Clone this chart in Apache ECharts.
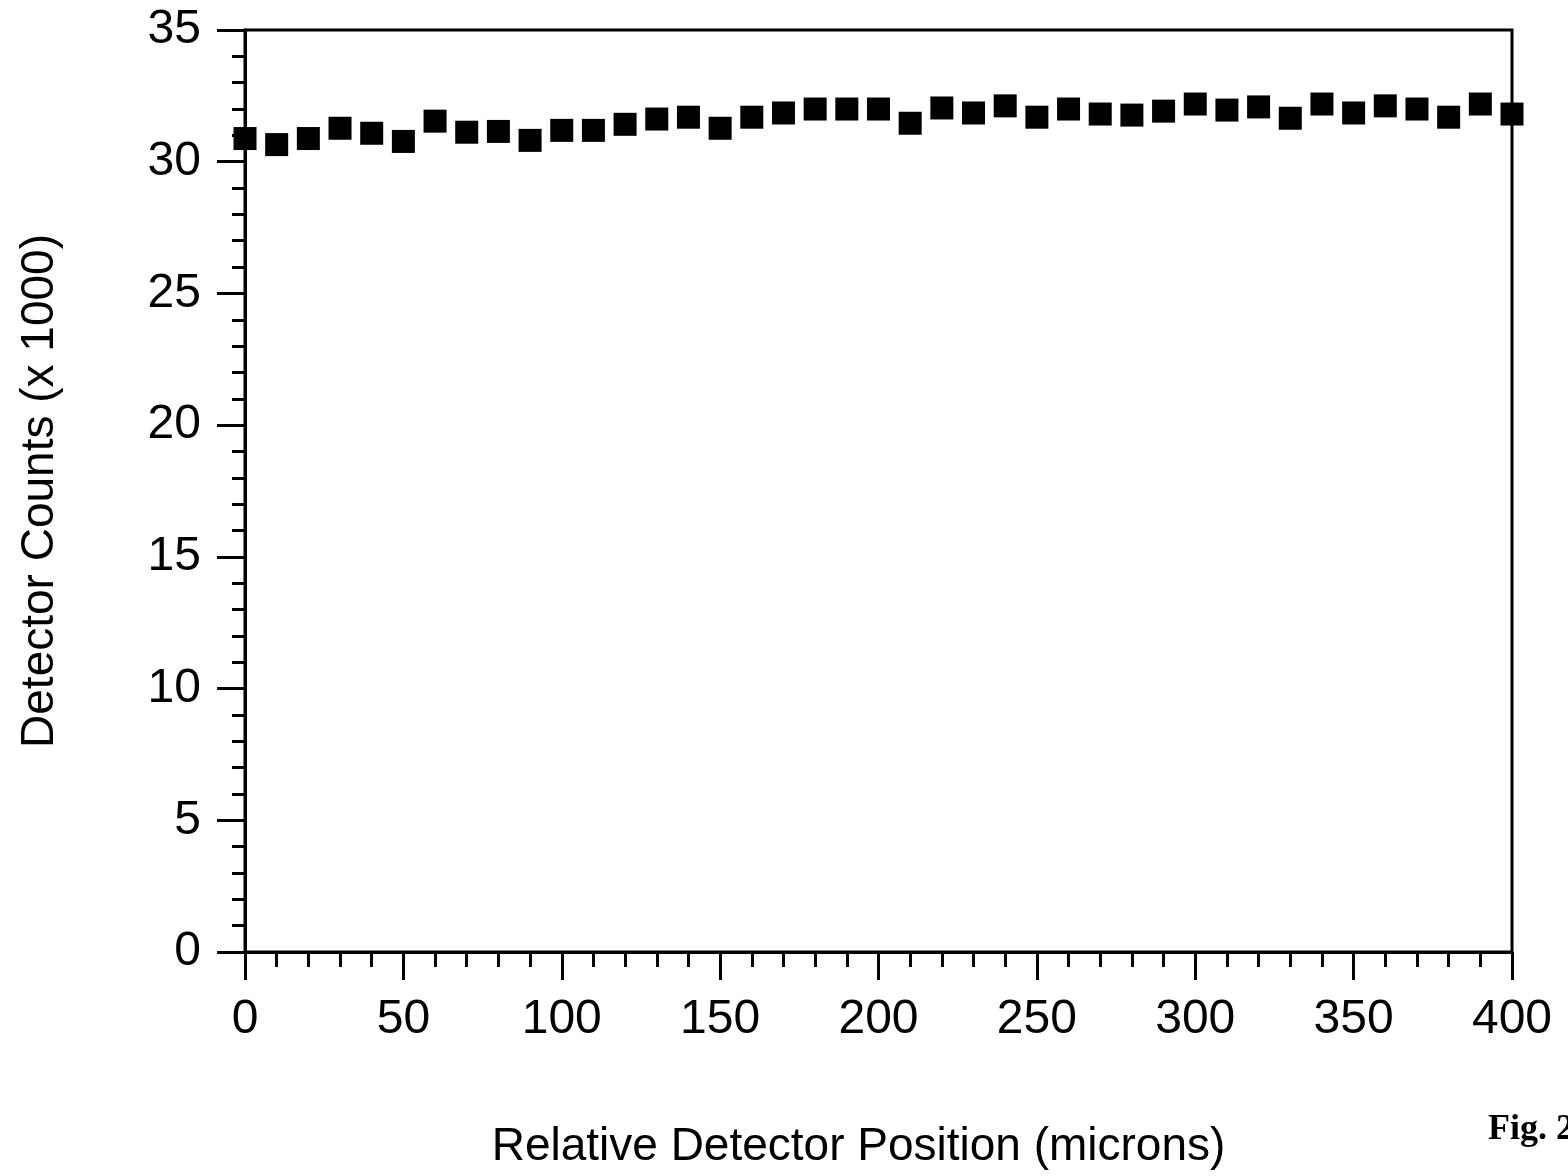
<!DOCTYPE html>
<html>
<head>
<meta charset="utf-8">
<script src="https://cdn.jsdelivr.net/npm/echarts@6/dist/echarts.min.js"></script>
<style>
  html, body { margin: 0; padding: 0; background: #fff; }
  #main { width: 1568px; height: 1176px; }
</style>
</head>
<body>
<div id="main"></div>
<script>
// detector position in microns
const positions = [0, 10, 20, 30, 40, 50, 60, 70, 80, 90, 100, 110, 120, 130, 140, 150, 160, 170, 180, 190,
  200, 210, 220, 230, 240, 250, 260, 270, 280, 290, 300, 310, 320, 330, 340, 350, 360, 370, 380, 390, 400];
// counts (x 1000)
const counts = [30.88, 30.65, 30.88, 31.27, 31.08, 30.77, 31.54, 31.12, 31.15, 30.81, 31.19, 31.19, 31.42, 31.62, 31.69,
  31.27, 31.69, 31.85, 32.0, 32.0, 32.0, 31.46, 32.04, 31.85, 32.12, 31.69, 32.0, 31.81, 31.77, 31.92,
  32.19, 31.96, 32.08, 31.65, 32.19, 31.85, 32.12, 32.0, 31.69, 32.19, 31.81];

const points = positions.map((x, i) => [x, counts[i]]);

const chart = echarts.init(document.getElementById('main'));
const font = 'Liberation Sans';

const option = {
  backgroundColor: '#fff',
  animation: false,
  grid: {
    left: 245, right: 56, top: 30, bottom: 224,
    show: true, borderColor: '#000', borderWidth: 3
  },
  xAxis: {
    type: 'value',
    min: 0, max: 400, interval: 50,
    name: 'Relative Detector Position (microns)',
    nameLocation: 'middle',
    nameGap: 172,
    nameTextStyle: { fontFamily: font, fontSize: 46, color: '#000', padding: [0, 40, 0, 0] },
    axisLine: { lineStyle: { color: '#000', width: 3 } },
    axisTick: { length: 28, lineStyle: { color: '#000', width: 3 } },
    minorTick: { show: true, splitNumber: 5, length: 15, lineStyle: { color: '#000', width: 3 } },
    axisLabel: { fontFamily: font, fontSize: 48, color: '#000', margin: 44 },
    splitLine: { show: false }
  },
  yAxis: {
    type: 'value',
    min: 0, max: 35, interval: 5,
    name: 'Detector Counts (x 1000)',
    nameLocation: 'middle',
    nameGap: 182,
    nameTextStyle: { fontFamily: font, fontSize: 46, color: '#000' },
    axisLine: { lineStyle: { color: '#000', width: 3 } },
    axisTick: { length: 28, lineStyle: { color: '#000', width: 3 } },
    minorTick: { show: true, splitNumber: 5, length: 13, lineStyle: { color: '#000', width: 3 } },
    axisLabel: { fontFamily: font, fontSize: 48, color: '#000', margin: 44 },
    splitLine: { show: false }
  },
  series: [{
    type: 'scatter',
    data: points,
    symbol: 'rect',
    symbolSize: 23,
    itemStyle: { color: '#000', opacity: 1 }
  }],
  graphic: [{
    type: 'text',
    left: 1488,
    top: 1112,
    style: { text: 'Fig. 2', font: 'bold 36px "Liberation Serif"', fill: '#000' }
  }]
};

chart.setOption(option);
</script>
</body>
</html>
